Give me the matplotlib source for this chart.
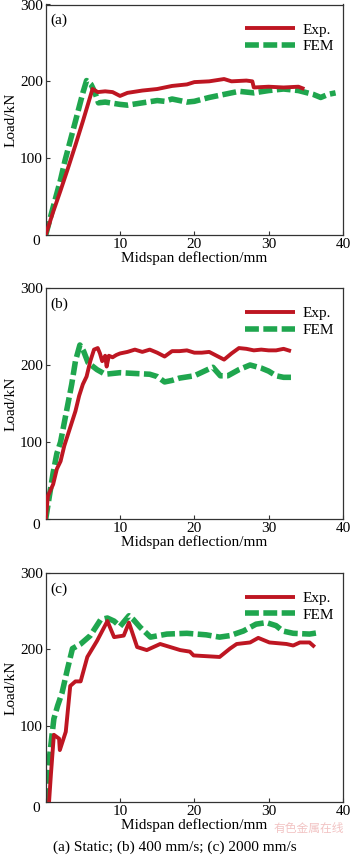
import matplotlib
matplotlib.use("Agg")
import matplotlib.pyplot as plt

plt.rcParams['font.family'] = ['Liberation Serif', 'DejaVu Serif']
plt.rcParams['font.size'] = 11

# ---------------- data ----------------
# (a) Static
a_exp_x = [0, 1, 2, 3, 4, 5, 6.3, 7, 8, 9, 10, 11, 13, 15, 17, 19, 20, 22, 24, 25, 27, 27.8, 28, 30, 32, 34, 34.8]
a_exp_y = [0, 30, 58, 87, 117, 148, 190, 186, 187, 186, 181, 185, 188, 190, 194, 196, 199, 200, 203, 200, 201, 200, 192, 193, 192, 193, 190]
a_fem_x = [0, 0.8, 2, 2.6, 4, 5, 5.5, 6.1, 6.6, 7.1, 8, 10, 11, 13, 15, 16, 17, 19, 20, 22, 24, 26, 28, 30, 32, 34, 36, 37, 38, 39]
a_fem_y = [0, 29, 72, 97, 148, 185, 201, 196, 186, 172, 173, 170, 169, 172, 175, 174, 177, 173, 174, 179, 183, 187, 185, 188, 190, 188, 183, 179, 183, 185]

# (b) 400 mm/s
b_exp_x = [0, 0.3, 1, 1.5, 2, 2.5, 3, 3.5, 4, 4.5, 5, 5.5, 6, 6.5, 7, 7.3, 7.6, 8, 8.2, 8.5, 9, 9.5, 10, 11, 12, 13, 14, 15, 16, 17, 18, 19, 20, 21, 22, 23, 24, 25, 26, 27, 28, 29, 30, 31, 32, 33]
b_exp_y = [0, 30, 45, 65, 75, 95, 110, 125, 140, 160, 175, 185, 205, 220, 222, 215, 205, 212, 198, 212, 210, 213, 215, 217, 220, 217, 220, 216, 211, 218, 218, 219, 216, 216, 217, 212, 207, 215, 222, 221, 219, 220, 219, 219, 221, 218]
b_fem_x = [0, 0.5, 1, 1.5, 2, 3, 3.5, 4, 4.6, 5.1, 5.7, 6.9, 8, 10, 12, 14, 15, 16, 17, 18, 20, 22, 22.5, 23.5, 24.5, 26, 27.5, 29, 30, 31, 32, 33]
b_fem_y = [0, 30, 60, 85, 100, 150, 175, 205, 226, 218, 203, 194, 188, 190, 189, 188, 185, 178, 180, 183, 186, 195, 197, 186, 186, 194, 200, 196, 192, 186, 184, 184]

# (c) 2000 mm/s
c_exp_x = [0.45, 0.7, 1.1, 1.8, 1.9, 2.2, 2.7, 3.3, 4.0, 4.7, 5.6, 6.9, 8.3, 9.2, 10.5, 11.2, 12.3, 13.6, 15.4, 18.1, 19.4, 19.9, 23.4, 24.8, 25.7, 27.5, 28.6, 30.1, 32.4, 33.3, 34.2, 35.5, 36.2]
c_exp_y = [0, 36, 88, 83, 68, 77, 92, 152, 158, 158, 190, 211, 237, 216, 218, 235, 203, 199, 207, 199, 197, 192, 190, 201, 207, 209, 215, 209, 207, 205, 209, 209, 203]
c_fem_x = [0, 0.2, 0.7, 1.1, 1.6, 2.2, 2.9, 3.6, 4.7, 6.0, 7.4, 8.3, 9.2, 10.0, 11.2, 11.8, 12.7, 14.1, 16.3, 19.0, 21.6, 23.4, 24.8, 26.6, 28.3, 29.7, 31.0, 31.9, 33.3, 35.5, 36.8]
c_fem_y = [0, 32, 75, 109, 126, 143, 173, 201, 207, 218, 239, 241, 237, 230, 244, 239, 229, 216, 220, 221, 219, 216, 218, 224, 233, 235, 231, 224, 221, 220, 222]

panel_labels = ['(a)', '(b)', '(c)']
x_ticks = [0, 10, 20, 30, 40]
y_ticks = [0, 100, 200, 300]
series_names = ['Exp.', 'FEM']
caption = '(a) Static; (b) 400 mm/s; (c) 2000 mm/s'
watermark = '有色金属在线'

RED = '#BE1622'
GREEN = '#1FA64E'

fig = plt.figure(figsize=(3.5, 8.6), dpi=100)
W, H = 350.0, 860.0
boxes = [(235, 4.5), (519, 288), (802, 573)]  # (bottom_px, top_px)
left_px, right_px = 45.7, 343.0

datasets = [(a_exp_x, a_exp_y, a_fem_x, a_fem_y),
            (b_exp_x, b_exp_y, b_fem_x, b_fem_y),
            (c_exp_x, c_exp_y, c_fem_x, c_fem_y)]

for i, ((bot, top), (ex, ey, fx, fy)) in enumerate(zip(boxes, datasets)):
    ax = fig.add_axes([left_px / W, 1 - bot / H, (right_px - left_px) / W, (bot - top) / H])
    ax.plot(ex, ey, color=RED, lw=2.8, solid_capstyle='butt', label=series_names[0], zorder=3)
    ax.plot(fx, fy, color=GREEN, lw=4.0, dashes=(2.5, 0.8), label=series_names[1], zorder=2)
    ax.set_xlim(0, 40)
    ax.set_ylim(0, 300)
    ax.set_xticks(x_ticks)
    ax.set_yticks(y_ticks)
    ax.set_xticklabels(['' if t == 0 else str(t) for t in x_ticks])
    ax.set_yticklabels(['' if t == 0 else str(t) for t in y_ticks])
    ax.tick_params(direction='in', length=3, width=0.8, labelsize=11, pad=2, color='#333333')
    for s in ax.spines.values():
        s.set_linewidth(0.9)
        s.set_color('#333333')
    ax.text(-0.018, -0.03, '0', transform=ax.transAxes, ha='right', va='center', fontsize=11)
    ax.set_xlabel('Midspan deflection/mm', fontsize=11, labelpad=0)
    ax.set_ylabel('Load/kN', fontsize=11, labelpad=2)
    ax.text(0.016, 0.93, panel_labels[i], transform=ax.transAxes, ha='left', va='center', fontsize=11)
    ax.legend(loc='upper right', bbox_to_anchor=(1.0, 0.96), frameon=False, fontsize=11,
              handlelength=3.3, handletextpad=0.45, labelspacing=0.2, borderaxespad=0.2)

fig.text(175 / W, 1 - 847 / H, caption, ha='center', va='center', fontsize=11)
fig.text(309 / W, 1 - 828 / H, watermark, ha='center', va='center', fontsize=8.5,
         family=['Noto Sans CJK SC', 'DejaVu Sans'], color='#F2C4C4', zorder=0)

fig.savefig('out.png', dpi=100)
